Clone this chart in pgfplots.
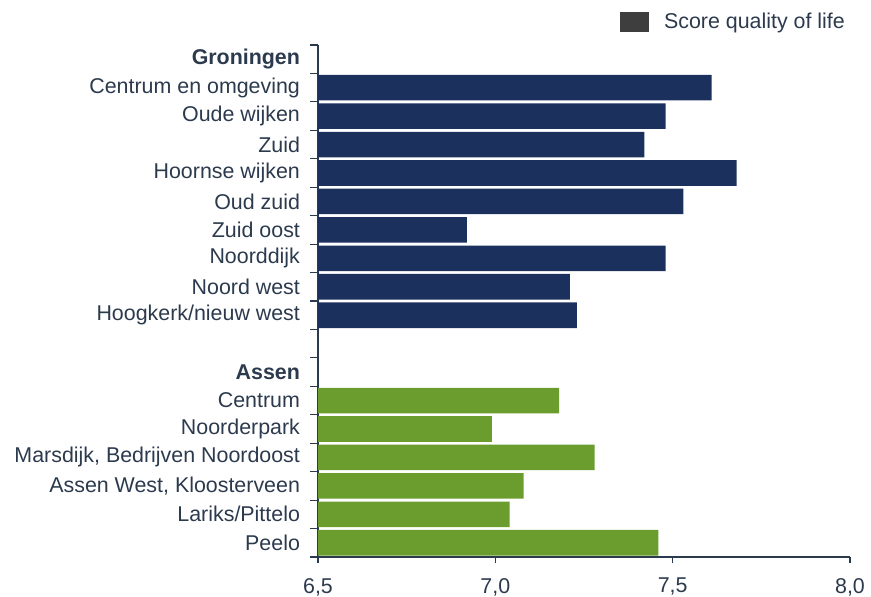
\documentclass[border=0pt]{standalone}
\usepackage{fontspec}
\setmainfont{Liberation Sans}
\usepackage{pgfplots}
\pgfplotsset{compat=1.18}
\definecolor{navy}{RGB}{28,48,94}
\definecolor{grass}{RGB}{106,156,46}
\definecolor{txt}{RGB}{44,58,78}
\definecolor{leg}{RGB}{62,62,62}
\begin{document}
\begin{tikzpicture}[font=\fontsize{10.7}{12.8}\selectfont]
\begin{axis}[
  at={(159pt,20pt)}, anchor=south west,
  scale only axis, width=266pt, height=256pt,
  xmin=6.5, xmax=8.0, ymin=-0.5, ymax=17.5, y dir=reverse,
  xbar, bar width=0.9, bar shift=0pt,
  axis x line=bottom, axis y line=left,
  axis line style={-, draw=txt, line width=0.6pt},
  tick align=outside,
  xtick={6.5,7.0,7.5,8.0},
  xticklabel style={text=txt, yshift=-4pt},
  /pgf/number format/.cd, use comma, fixed, fixed zerofill, precision=1, assume math mode=true,
  /pgfplots/.cd,
  ytick={0,...,17},
  yticklabels={\textbf{Groningen},Centrum en omgeving,Oude wijken,Zuid,Hoornse wijken,Oud zuid,Zuid oost,Noorddijk,Noord west,Hoogkerk/nieuw west,{},\textbf{Assen},Centrum,Noorderpark,{Marsdijk, Bedrijven Noordoost},{Assen West, Kloosterveen},Lariks/Pittelo,Peelo},
  yticklabel style={text=txt, xshift=-2.5pt},
  major y tick style={draw=none},
  minor ytick={-0.5,0.5,...,17.5},
  minor y tick style={draw=txt, line width=0.6pt},
  minor tick length=4pt,
  major x tick style={draw=txt, line width=0.6pt},
  major tick length=3pt,
  legend style={draw=none, fill=none, at={(0.567,1.072)}, anchor=north west, legend cell align=left, text=txt, inner sep=0pt},
  legend image code/.code={\fill[#1] (0pt,-5pt) rectangle (14.5pt,5pt);},
]
\addlegendimage{fill=leg, draw=none}
\addlegendentry{\hspace{5.5pt}Score quality of life}
\addplot[fill=navy, draw=none, forget plot] coordinates {
  (7.61,1) (7.48,2) (7.42,3) (7.68,4) (7.53,5) (6.92,6) (7.48,7) (7.21,8) (7.23,9)
};
\addplot[fill=grass, draw=none, forget plot] coordinates {
  (7.18,12) (6.99,13) (7.28,14) (7.08,15) (7.04,16) (7.46,17)
};
\end{axis}
\pgfresetboundingbox
\path (0,0) rectangle (435.5pt,298.5pt);
\end{tikzpicture}
\end{document}
